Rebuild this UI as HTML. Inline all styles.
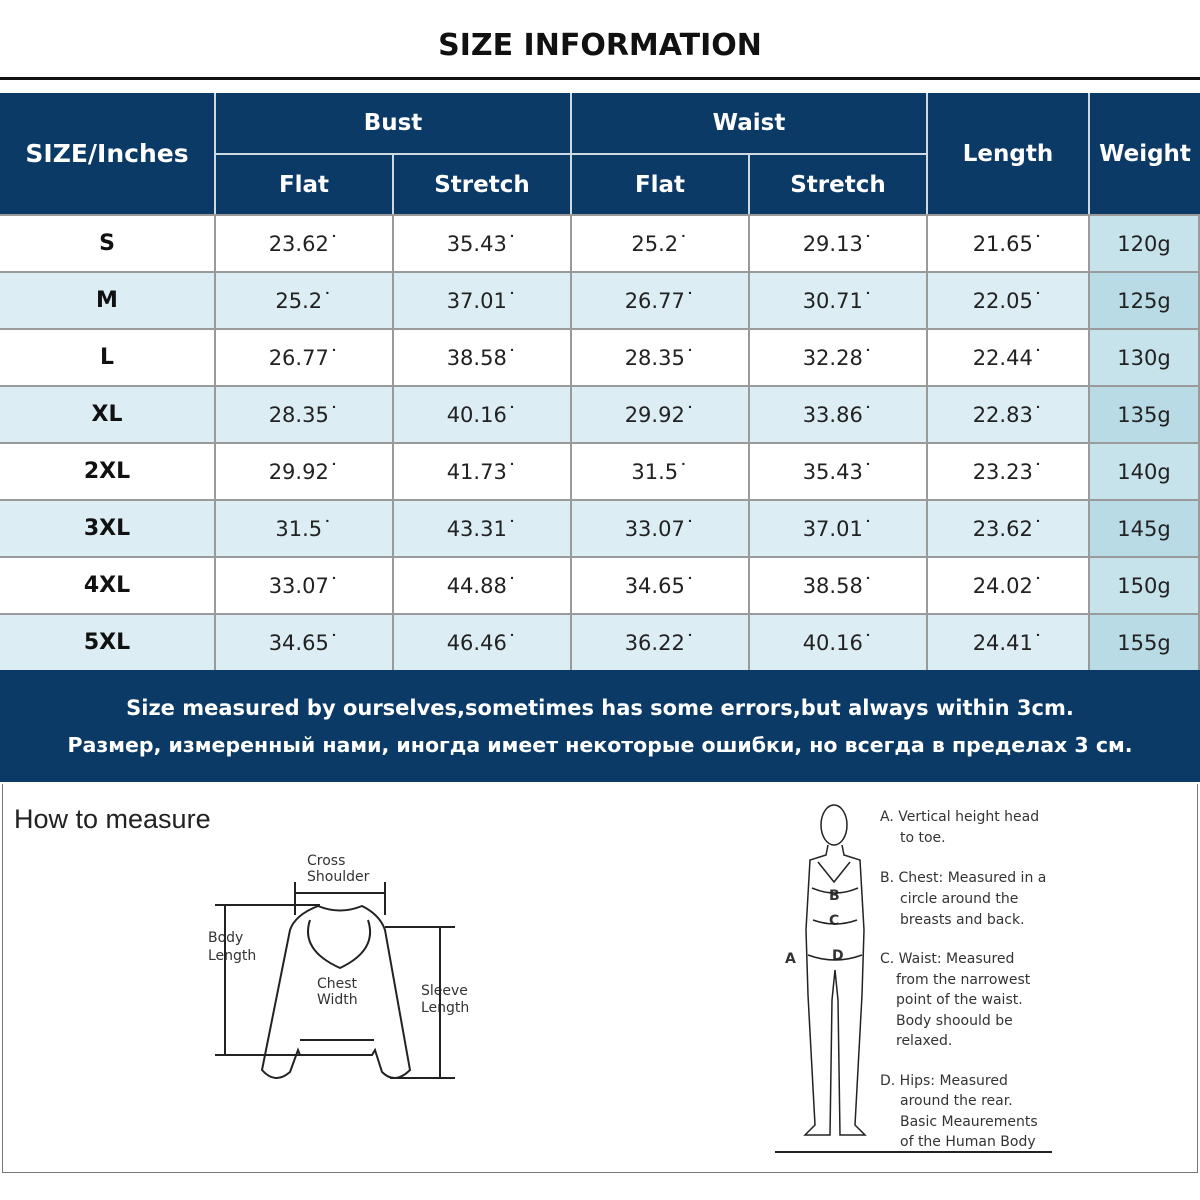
<!DOCTYPE html>
<html><head><meta charset="utf-8"><style>
*{margin:0;padding:0;box-sizing:border-box}
body{width:1200px;height:1200px;background:#fff;position:relative;overflow:hidden;font-family:"DejaVu Sans","Liberation Sans",sans-serif}
.a{position:absolute;display:flex;align-items:center;justify-content:center;text-align:center}
.h{background:#0b3a66;color:#fff;font-weight:bold;font-size:23px}
.c{font-size:21px;color:#222}
.s{font-weight:bold;font-size:22px;color:#111}
</style></head><body>
<div class="a" style="left:0;top:22px;width:1200px;height:46px;font-size:30px;font-weight:bold;color:#111">SIZE INFORMATION</div>
<div style="position:absolute;left:0;top:77px;width:1200px;height:3px;background:#111"></div>
<div style="position:absolute;left:0;top:93px;width:1200px;height:577px;background:#9a9a9a"></div>
<div style="position:absolute;left:0;top:93px;width:1200px;height:121px;background:#cfd9e3"></div>
<div class="a h" style="left:0;top:93px;width:214px;height:121px;font-size:25px">SIZE/Inches</div>
<div class="a h" style="left:216px;top:93px;width:354px;height:60px">Bust</div>
<div class="a h" style="left:216px;top:155px;width:176px;height:59px">Flat</div>
<div class="a h" style="left:394px;top:155px;width:176px;height:59px">Stretch</div>
<div class="a h" style="left:572px;top:93px;width:354px;height:60px">Waist</div>
<div class="a h" style="left:572px;top:155px;width:176px;height:59px">Flat</div>
<div class="a h" style="left:750px;top:155px;width:176px;height:59px">Stretch</div>
<div class="a h" style="left:928px;top:93px;width:160px;height:121px">Length</div>
<div class="a h" style="left:1090px;top:93px;width:110px;height:121px">Weight</div>
<div id="rows"></div>
<script>
var d=[["S","23.62","35.43","25.2","29.13","21.65","120g"],["M","25.2","37.01","26.77","30.71","22.05","125g"],["L","26.77","38.58","28.35","32.28","22.44","130g"],["XL","28.35","40.16","29.92","33.86","22.83","135g"],["2XL","29.92","41.73","31.5","35.43","23.23","140g"],["3XL","31.5","43.31","33.07","37.01","23.62","145g"],["4XL","33.07","44.88","34.65","38.58","24.02","150g"],["5XL","34.65","46.46","36.22","40.16","24.41","155g"]];
var cols=[[0,214],[216,176],[394,176],[572,176],[750,176],[928,160],[1090,108]];
var h="";
d.forEach(function(r,i){var t=216+57*i;var bg=i%2?"#dcedf3":"#fff";
r.forEach(function(v,j){var b=j==6?(i%2?"#b9dbe6":"#c6e3ec"):bg;
var txt=(j>0&&j<6)?v+"\u02d9":v;
h+='<div class="a '+(j==0?'s':'c')+'" style="left:'+cols[j][0]+'px;top:'+t+'px;width:'+cols[j][1]+'px;height:55px;background:'+b+'">'+txt+'</div>';});});
document.getElementById("rows").innerHTML=h;
</script>
<div class="a" style="left:0;top:670px;width:1200px;height:112px;background:#0b3a66;color:#fff;font-weight:bold;font-size:21px;flex-direction:column;line-height:37px">
<div style="padding-top:2px">Size measured by ourselves,sometimes has some errors,but always within 3cm.</div>
<div style="font-size:20.5px">Размер, измеренный нами, иногда имеет некоторые ошибки, но всегда в пределах 3 см.</div></div>
<div style="position:absolute;left:2px;top:784px;width:1196px;height:389px;border:1px solid #777;border-top:none"></div>
<div style="position:absolute;left:14px;top:804px;font-size:27px;color:#222;font-family:'Liberation Sans',sans-serif">How to measure</div>
<svg style="position:absolute;left:0;top:0" width="1200" height="1200" fill="none" stroke="#222" stroke-width="2" font-family="DejaVu Sans" font-size="14">
<g font-size="14" fill="#333" stroke="none">
<text x="307" y="865">Cross</text><text x="307" y="881">Shoulder</text>
<text x="208" y="942">Body</text><text x="208" y="960">Length</text>
<text x="317" y="988">Chest</text><text x="317" y="1004">Width</text>
<text x="421" y="995">Sleeve</text><text x="421" y="1012">Length</text>
</g>
<line x1="295" y1="893" x2="385" y2="893"/><line x1="295" y1="882" x2="295" y2="915"/><line x1="385" y1="882" x2="385" y2="915"/>
<line x1="215" y1="905" x2="320" y2="905"/><line x1="225" y1="905" x2="225" y2="1055"/><line x1="215" y1="1055" x2="320" y2="1055"/>
<line x1="385" y1="927" x2="455" y2="927"/><line x1="440" y1="927" x2="440" y2="1078"/><line x1="390" y1="1078" x2="455" y2="1078"/>
<path d="M318 906 Q340 915 362 906 Q380 915 385 930 L410 1070 Q395 1085 382 1072 L375 1050 L372 1055 L300 1055 L298 1050 L290 1072 Q275 1085 262 1070 L290 930 Q295 915 318 906Z"/>
<path d="M310 920 Q300 950 340 968 Q378 950 368 920"/>
<path d="M300 1040 L374 1040"/>
<g fill="#333" stroke="none"><text x="880" y="821">A. Vertical height head</text><text x="900" y="842">to toe.</text>
<text x="880" y="882">B. Chest: Measured in a</text><text x="900" y="903">circle around the</text><text x="900" y="924">breasts and back.</text>
<text x="880" y="963">C. Waist: Measured</text><text x="896" y="984">from the narrowest</text><text x="896" y="1004">point of the waist.</text><text x="896" y="1025">Body shoould be</text><text x="896" y="1045">relaxed.</text>
<text x="880" y="1085">D. Hips: Measured</text><text x="900" y="1105">around the rear.</text><text x="900" y="1126">Basic Meaurements</text><text x="900" y="1146">of the Human Body</text>
<text x="785" y="963" font-weight="bold">A</text><text x="829" y="900" font-weight="bold">B</text><text x="829" y="925" font-weight="bold">C</text><text x="832" y="960" font-weight="bold">D</text></g>
<g stroke-width="1.5"><ellipse cx="834" cy="825" rx="13" ry="20"/>
<path d="M828 845 L826 855 L810 860 L806 930 L808 995 L815 1125 L805 1135 L830 1135 L832 1000 L835 970 L838 1000 L840 1135 L865 1135 L855 1125 L862 995 L864 930 L860 860 L844 855 L842 845"/>
<path d="M818 862 L834 882 L850 862"/><path d="M812 888 Q835 898 858 888"/><path d="M813 920 Q835 928 857 920"/><path d="M808 955 Q835 965 862 955"/></g>
<line x1="775" y1="1152" x2="1052" y2="1152" stroke-width="2"/>
</svg>
</body></html>
